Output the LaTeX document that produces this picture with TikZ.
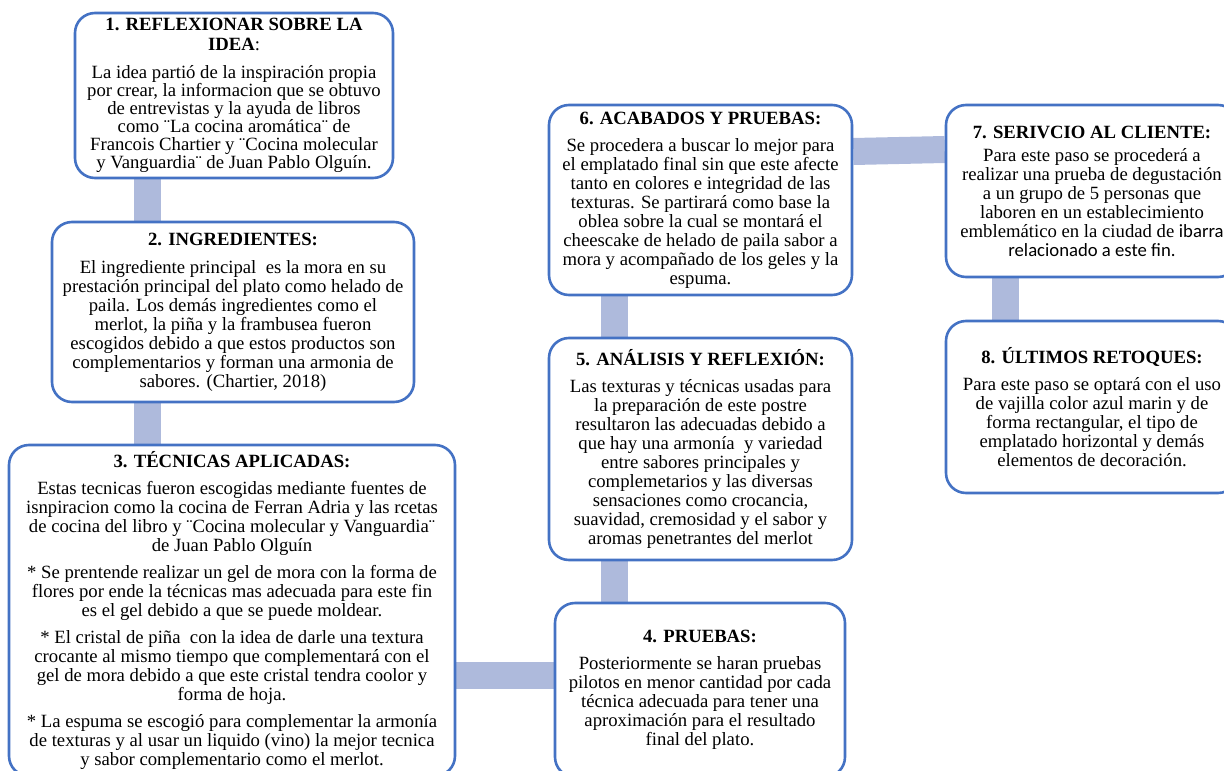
\documentclass[tikz,border=0pt]{standalone}
\usepackage{fontspec}
\setmainfont{Liberation Serif}
\newfontfamily\calibrifont{Carlito}
\usetikzlibrary{backgrounds}
\definecolor{boxblue}{HTML}{4472C4}
\definecolor{barblue}{HTML}{AEBADC}

\begin{document}
\begin{tikzpicture}[x=1pt,y=-1pt,
  stepbox/.style={draw=boxblue, line width=2.6pt, fill=white, rounded corners=20pt,
    inner sep=0pt, align=center, font=\fontsize{18.7}{19}\selectfont},
  tight/.style={font=\fontsize{18.7}{18}\selectfont},
  bar/.style={draw=barblue, line width=27pt}]
\path[use as bounding box] (0,0) rectangle (1224,771);
\clip (0,0) rectangle (1224,771);

% step boxes
\node[stepbox, tight, minimum width=318pt, minimum height=165pt] (b1) at (234,95.5)
  {\textbf{1. REFLEXIONAR SOBRE LA}\\[2pt]\textbf{IDEA}:\\[9.5pt]
   La idea partió de la inspiración propia\\
   por crear, la informacion que se obtuvo\\
   de entrevistas y la ayuda de libros\\
   como ¨La cocina aromática¨ de\\
   Francois Chartier y ¨Cocina molecular\\
   y Vanguardia¨ de Juan Pablo Olguín.};

\node[stepbox, minimum width=362pt, minimum height=180pt] (b2) at (233,312)
  {\textbf{2. INGREDIENTES:}\\[9pt]
   El ingrediente principal\ \ es la mora en su\\
   prestación principal del plato como helado de\\
   paila. Los demás ingredientes como el\\
   merlot, la piña y la frambusea fueron\\
   escogidos debido a que estos productos son\\
   complementarios y forman una armonia de\\
   sabores. (Chartier, 2018)};

\node[stepbox, minimum width=446pt, minimum height=331pt] (b3) at (232,610.5)
  {\textbf{3. TÉCNICAS APLICADAS:}\\[8pt]
   Estas tecnicas fueron escogidas mediante fuentes de\\
   isnpiracion como la cocina de Ferran Adria y las rcetas\\
   de cocina del libro y ¨Cocina molecular y Vanguardia¨\\
   de Juan Pablo Olguín\\[8pt]
   * Se prentende realizar un gel de mora con la forma de\\
   flores por ende la técnicas mas adecuada para este fin\\
   es el gel debido a que se puede moldear.\\[8pt]
   * El cristal de piña\ \ con la idea de darle una textura\\
   crocante al mismo tiempo que complementará con el\\
   gel de mora debido a que este cristal tendra coolor y\\
   forma de hoja.\\[8pt]
   * La espuma se escogió para complementar la armonía\\
   de texturas y al usar un liquido (vino) la mejor tecnica\\
   y sabor complementario como el merlot.};

\node[stepbox, minimum width=290pt, minimum height=174pt] (b4) at (700,690)
  {\textbf{4. PRUEBAS:}\\[8pt]
   Posteriormente se haran pruebas\\
   pilotos en menor cantidad por cada\\
   técnica adecuada para tener una\\
   aproximación para el resultado\\
   final del plato.};

\node[stepbox, minimum width=303pt, minimum height=222pt] (b5) at (700.5,449)
  {\textbf{5. ANÁLISIS Y REFLEXIÓN:}\\[8pt]
   Las texturas y técnicas usadas para\\
   la preparación de este postre\\
   resultaron las adecuadas debido a\\
   que hay una armonía\ \ y variedad\\
   entre sabores principales y\\
   complemetarios y las diversas\\
   sensaciones como crocancia,\\
   suavidad, cremosidad y el sabor y\\
   aromas penetrantes del merlot};

\node[stepbox, minimum width=303pt, minimum height=190pt] (b6) at (700.5,200)
  {\textbf{6. ACABADOS Y PRUEBAS:}\\[8pt]
   Se procedera a buscar lo mejor para\\
   el emplatado final sin que este afecte\\
   tanto en colores e integridad de las\\
   texturas. Se partirará como base la\\
   oblea sobre la cual se montará el\\
   cheescake de helado de paila sabor a\\
   mora y acompañado de los geles y la\\
   espuma.};

\node[stepbox, minimum width=292pt, minimum height=172pt] (b7) at (1092,191)
  {\textbf{7. SERIVCIO AL CLIENTE:}\\[4pt]
   Para este paso se procederá a\\
   realizar una prueba de degustación\\
   a un grupo de 5 personas que\\
   laboren en un establecimiento\\
   emblemático en la ciudad de {\calibrifont ibarra}\\
   {\calibrifont relacionado a este fin.}};

\node[stepbox, minimum width=292pt, minimum height=172pt] (b8) at (1092,407)
  {\textbf{8. ÚLTIMOS RETOQUES:}\\[8pt]
   Para este paso se optará con el uso\\
   de vajilla color azul marin y de\\
   forma rectangular, el tipo de\\
   emplatado horizontal y demás\\
   elementos de decoración.};

% connector positions
\coordinate (x12) at (147,0);
\coordinate (y34) at (0,675);
\coordinate (x45) at (614.5,0);
\coordinate (y67a) at (0,151.5);
\coordinate (y67b) at (0,149.5);
\coordinate (x78) at (1005.5,0);

% connecting bars behind the boxes
\begin{scope}[on background layer]
  \draw[bar] (b1.south -| x12) -- (b2.north -| x12);
  \draw[bar] (b2.south -| x12) -- (b3.north -| x12);
  \draw[bar] (b3.east |- y34) -- (b4.west |- y34);
  \draw[bar] (b4.north -| x45) -- (b5.south -| x45);
  \draw[bar] (b5.north -| x45) -- (b6.south -| x45);
  \draw[bar] (b6.east |- y67a) -- (b7.west |- y67b);
  \draw[bar] (b7.south -| x78) -- (b8.north -| x78);
\end{scope}
\end{tikzpicture}
\end{document}
